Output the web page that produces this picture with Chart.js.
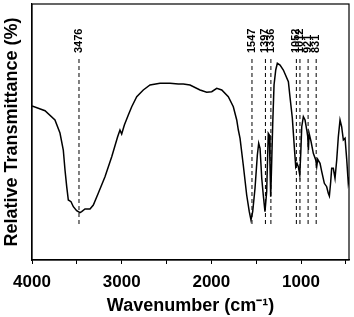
<!DOCTYPE html>
<html>
<head>
<meta charset="utf-8">
<script src="https://cdn.jsdelivr.net/npm/chart.js@4/dist/chart.umd.min.js"></script>
<style>
  html, body { margin: 0; padding: 0; background: #fff; }
  #wrap { width: 354px; height: 317px; }
</style>
</head>
<body>
<div id="wrap"><canvas id="c" width="354" height="317"></canvas></div>
<script>
// Wavenumber (cm^-1) sample points of the FTIR spectrum
const wavenumbers = [4000, 3855, 3744, 3688, 3651, 3632, 3613, 3595, 3565, 3539, 3502, 3465, 3446, 3409, 3353, 3316, 3260, 3186, 3111, 3045, 3019, 3000, 2970, 2926, 2888, 2832, 2759, 2684, 2573, 2461, 2368, 2313, 2238, 2126, 2052, 1996, 1940, 1884, 1811, 1755, 1717, 1699, 1680, 1644, 1606, 1577, 1558, 1539, 1513, 1487, 1472, 1457, 1438, 1421, 1402, 1383, 1372, 1365, 1354, 1346, 1338, 1327, 1316, 1301, 1282, 1264, 1234, 1197, 1141, 1123, 1097, 1075, 1059, 1045, 1030, 1014, 1003, 992, 974, 955, 936, 925, 918, 910, 888, 863, 836, 825, 814, 788, 769, 740, 714, 696, 684, 669, 658, 640, 621, 602, 584, 565, 547, 528, 509, 490, 473, 458];
// Relative transmittance (arbitrary units)
const transmittance = [154, 149.3, 140, 127, 110, 90, 73.3, 60, 58.3, 53.3, 49.3, 47.3, 48.3, 51, 51, 55, 67, 83.3, 103.3, 123.3, 130, 126, 135, 145, 153.3, 163.3, 170, 175, 176.7, 176.7, 176, 176, 175, 170, 167.7, 168.3, 171.7, 170, 163.3, 153.3, 140, 130, 121.7, 95, 65, 48.3, 40, 48.3, 71.7, 105, 116.7, 111.7, 81.7, 65, 48.3, 68.3, 105, 126.7, 125, 95, 63.3, 98.3, 135, 175, 190, 196.7, 195, 190, 178.3, 163, 142, 113.3, 93.3, 96.7, 93.3, 85, 106.7, 133.3, 143.3, 140, 130, 123.3, 110, 126.7, 118.3, 106.7, 100, 93.3, 100.7, 96.7, 88.3, 76.7, 73.3, 66.7, 64, 78.3, 91.7, 91.7, 81.7, 100, 123.3, 140, 133.3, 120, 121.7, 100, 76.7, 83.3];
// Marked peak positions (cm^-1)
const peakPositions = [3476, 1547, 1397, 1336, 1052, 1012, 921, 831];
const peakLabels = ['3476', '1547', '1397', '1336', '1052', '1012', '921', '831'];
// x-axis tick values and labels
const tickValues = [4000, 3500, 3000, 2500, 2000, 1500, 1000, 500];
const tickLabels = ['4000', '', '3000', '', '2000', '', '1000', ''];

const X_MIN = 465, X_MAX = 4000, Y_MIN = 0, Y_MAX = 256;
const DASH_LOW = 36, DASH_HIGH = 201, LABEL_Y = 207;

const spectrum = wavenumbers.map((w, i) => ({ x: w, y: transmittance[i] }));

const dashSets = peakPositions.map(p => ({
  data: [{ x: p, y: DASH_LOW }, { x: p, y: DASH_HIGH }],
  borderColor: '#000',
  borderWidth: 1,
  borderDash: [4, 3],
  pointRadius: 0,
  fill: false
}));

const framePlugin = {
  id: 'frame',
  afterDraw(chart) {
    const { ctx, chartArea: a } = chart;
    ctx.save();
    ctx.strokeStyle = '#000';
    ctx.lineWidth = 1.2;
    ctx.strokeRect(a.left, a.top, a.right - a.left, a.bottom - a.top);
    ctx.restore();
  }
};

const peakLabelPlugin = {
  id: 'peakLabels',
  afterDatasetsDraw(chart) {
    const { ctx, scales } = chart;
    ctx.save();
    ctx.fillStyle = '#000';
    ctx.font = 'bold 11px "Liberation Sans", Arial, sans-serif';
    ctx.textAlign = 'left';
    ctx.textBaseline = 'middle';
    peakPositions.forEach((p, i) => {
      const px = scales.x.getPixelForValue(p);
      const py = scales.y.getPixelForValue(LABEL_Y);
      ctx.save();
      ctx.translate(px, py);
      ctx.rotate(-Math.PI / 2);
      ctx.fillText(peakLabels[i], 0, 0);
      ctx.restore();
    });
    ctx.restore();
  }
};

new Chart(document.getElementById('c'), {
  type: 'line',
  data: {
    datasets: [{
      data: spectrum,
      borderColor: '#000',
      borderWidth: 1.5,
      pointRadius: 0,
      tension: 0,
      fill: false
    }, ...dashSets]
  },
  options: {
    responsive: false,
    animation: false,
    layout: { padding: { left: 0, right: 5, top: 4, bottom: 0 } },
    plugins: { legend: { display: false }, tooltip: { enabled: false } },
    scales: {
      x: {
        type: 'linear',
        reverse: true,
        min: X_MIN,
        max: X_MAX,
        afterBuildTicks(scale) { scale.ticks = tickValues.map(v => ({ value: v })); },
        afterFit(scale) { scale.height = 57; },
        ticks: {
          color: '#000',
          autoSkip: false,
          maxRotation: 0,
          padding: 8,
          font: { family: '"Liberation Sans", Arial, sans-serif', size: 17, weight: 'bold' },
          callback: (v) => { const i = tickValues.indexOf(v); return i >= 0 ? tickLabels[i] : ''; }
        },
        grid: { drawOnChartArea: false, drawTicks: true, tickLength: 4, color: '#000', lineWidth: 1 },
        border: { display: true, color: '#000', width: 1.2 },
        title: {
          display: true,
          text: 'Wavenumber (cm\u207B\u00B9)',
          color: '#000',
          font: { family: '"Liberation Sans", Arial, sans-serif', size: 18, weight: 'bold' },
          padding: { top: 0, bottom: 0 }
        }
      },
      y: {
        min: Y_MIN,
        max: Y_MAX,
        afterFit(scale) { scale.width = 32; },
        ticks: { display: false },
        grid: { display: false },
        border: { display: true, color: '#000', width: 1.2 },
        title: {
          display: true,
          text: 'Relative Transmittance (%)',
          color: '#000',
          font: { family: '"Liberation Sans", Arial, sans-serif', size: 18, weight: 'bold' },
          padding: { top: 1, bottom: 0 }
        }
      }
    }
  },
  plugins: [framePlugin, peakLabelPlugin]
});
</script>
</body>
</html>
